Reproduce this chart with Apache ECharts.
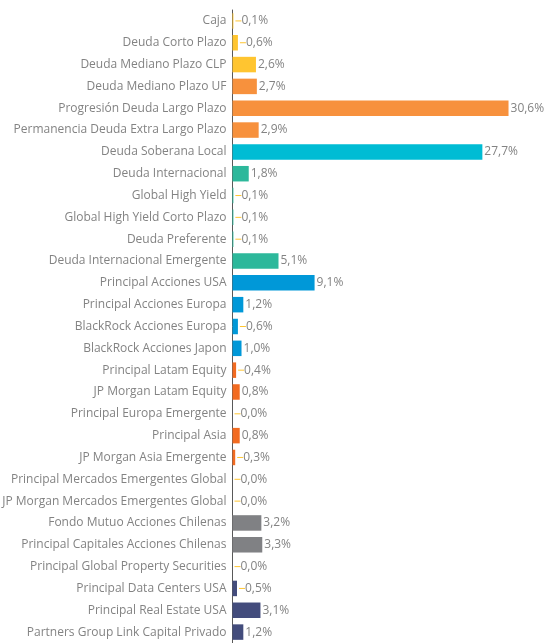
<!DOCTYPE html>
<html><head><meta charset="utf-8">
<script src="https://cdn.jsdelivr.net/npm/echarts@6/dist/echarts.min.js"></script>
<style>html,body{margin:0;padding:0;background:#fff}#c{width:544px;height:643px}</style>
</head><body><div id="c"></div>
<script>
const categories = ["Caja","Deuda Corto Plazo","Deuda Mediano Plazo CLP","Deuda Mediano Plazo UF","Progresión Deuda Largo Plazo","Permanencia Deuda Extra Largo Plazo","Deuda Soberana Local","Deuda Internacional","Global High Yield","Global High Yield Corto Plazo","Deuda Preferente","Deuda Internacional Emergente","Principal Acciones USA","Principal Acciones Europa","BlackRock Acciones Europa","BlackRock Acciones Japon","Principal Latam Equity","JP Morgan Latam Equity","Principal Europa Emergente","Principal Asia","JP Morgan Asia Emergente","Principal Mercados Emergentes Global","JP Morgan Mercados Emergentes Global","Fondo Mutuo Acciones Chilenas","Principal Capitales Acciones Chilenas","Principal Global Property Securities","Principal Data Centers USA","Principal Real Estate USA","Partners Group Link Capital Privado"];
const values = [0.1,0.6,2.6,2.7,30.6,2.9,27.7,1.8,0.1,0.1,0.1,5.1,9.1,1.2,0.6,1.0,0.4,0.8,0.0,0.8,0.3,0.0,0.0,3.2,3.3,0.0,0.5,3.1,1.2];
const groups = ["a","a","a","b","b","b","c","d","d","d","d","d","e","e","e","e","f","f","f","f","f","f","f","g","g","h","h","h","h"];
const groupColors = {a:"#FFC530",b:"#F7913D",c:"#00BCD4",d:"#2DB89B",e:"#0098D8",f:"#F26B21",g:"#808184",h:"#434C7C"};

const chart = echarts.init(document.getElementById('c'));
chart.setOption({
  animation:false,
  grid:{left:232.5, top:10, height:633, width:306.7, containLabel:false, outerBoundsMode:'none'},
  xAxis:{type:'value', min:0, max:34, show:false},
  yAxis:{type:'category', inverse:true, data:categories,
    axisLine:{show:true, lineStyle:{color:'#595959', width:1}},
    axisTick:{show:false},
    axisLabel:{margin:6, color:'#838383', fontFamily:'Open Sans', fontSize:12}
  },
  series:[{
    type:'bar', barCategoryGap:'29%',
    data: values.map((v,i)=>({value:v, itemStyle:{color:groupColors[groups[i]]}})),
    label:{show:true, position:'right', distance:2, color:'#838383', fontFamily:'Open Sans', fontSize:12,
      formatter:p=>{const t=p.value.toFixed(1).replace('.',',')+'%'; return p.value<0.7 ? '{l|}'+t : t;},
      rich:{l:{width:6, height:1, backgroundColor:'#FFC530', padding:0}}
    }
  }]
});
</script></body></html>
